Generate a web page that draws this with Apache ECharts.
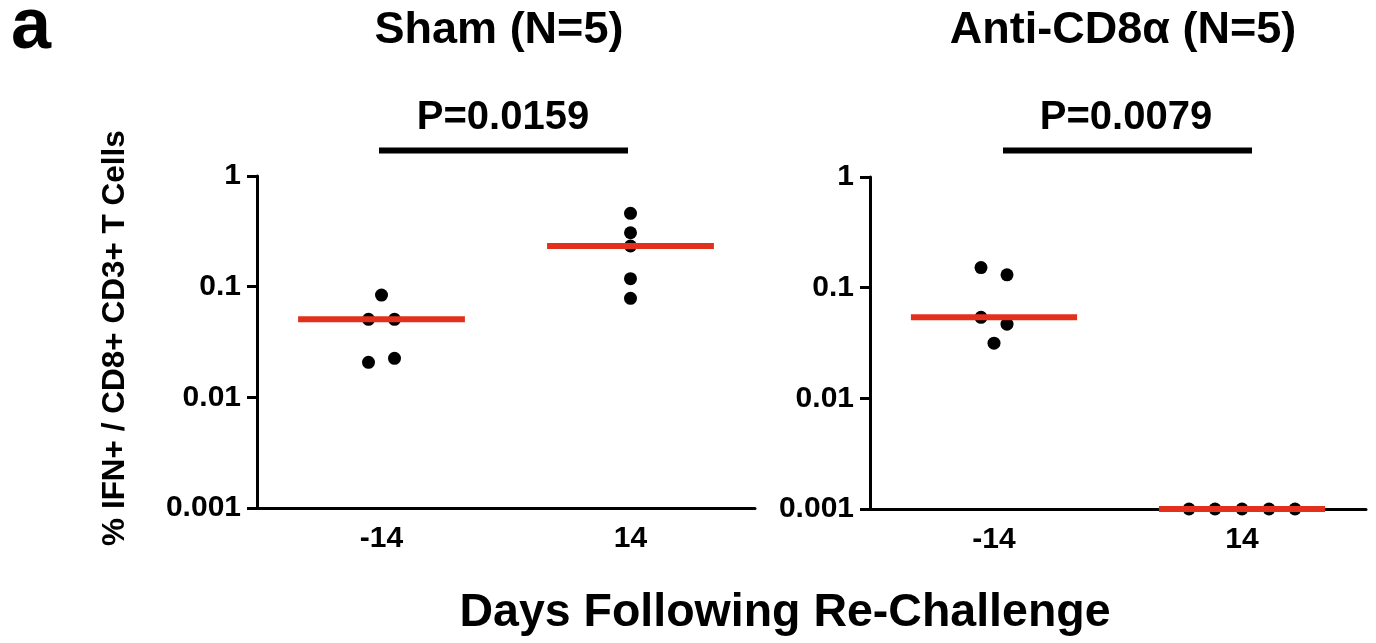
<!DOCTYPE html>
<html>
<head>
<meta charset="utf-8">
<script src="https://cdn.jsdelivr.net/npm/echarts@6/dist/echarts.min.js"></script>
<style>
  html, body { margin: 0; background: #fff; }
  #chart { width: 1376px; height: 643px; }
</style>
</head>
<body>
<div id="chart"></div>
<script>
// categories (days relative to re-challenge)
const days = ['-14', '14']
// % IFN+ of CD8+ CD3+ T cells, one value per animal
const shamBefore = [0.084, 0.0507, 0.0507, 0.0225, 0.0207]
const shamAfter = [0.46, 0.307, 0.233, 0.118, 0.0785]
const cd8Before = [0.152, 0.1305, 0.054, 0.0468, 0.0315]
const cd8After = [0.001, 0.001, 0.001, 0.001, 0.001]
const panelTitles = ['Sham (N=5)', 'Anti-CD8\u03b1 (N=5)']
const pValues = ['P=0.0159', 'P=0.0079']
const yName = '% IFN+ / CD8+ CD3+ T Cells'
const xName = 'Days Following Re-Challenge'

// horizontal spread of the dots inside a column (px)
const spread = {
  shamBefore: [0, -13, 13, 13, -13],
  shamAfter: [0, 0, 0, 0, 0],
  cd8Before: [-13, 13, -13, 13, 0],
  cd8After: [-53, -27, 0, 27, 53]
}

const RED = '#e2301c'
const FONT = '"Liberation Sans", Arial, sans-serif'

function median(arr) {
  const s = arr.slice().sort((a, b) => a - b)
  const m = Math.floor(s.length / 2)
  return s.length % 2 ? s[m] : (s[m - 1] + s[m]) / 2
}

function dots(day, values, offs, idx) {
  return {
    type: 'scatter',
    xAxisIndex: idx,
    yAxisIndex: idx,
    symbol: 'circle',
    symbolSize: 13,
    clip: false,
    itemStyle: { color: '#000', opacity: 1 },
    z: 2,
    data: values.map((v, i) => ({ value: [day, v], symbolOffset: [offs[i], 0] }))
  }
}

function medians(groups, idx) {
  return {
    type: 'custom',
    xAxisIndex: idx,
    yAxisIndex: idx,
    z: 5,
    data: groups.map((g, i) => [i, median(g)]),
    renderItem(params, api) {
      const p = api.coord([api.value(0), api.value(1)])
      const w = api.size([1, 1])[0] * 0.67
      return {
        type: 'rect',
        shape: { x: p[0] - w / 2, y: p[1] - 3, width: w, height: 6 },
        style: { fill: RED }
      }
    }
  }
}

function xAx(idx) {
  return {
    type: 'category',
    gridIndex: idx,
    data: days,
    boundaryGap: true,
    axisLine: { lineStyle: { color: '#000', width: 3 } },
    axisTick: { alignWithLabel: true, length: 10, lineStyle: { color: '#000', width: 3 } },
    axisLabel: { color: '#000', fontFamily: FONT, fontWeight: 'bold', fontSize: 30, margin: 16 }
  }
}

function yAx(idx) {
  return {
    type: 'log',
    logBase: 10,
    gridIndex: idx,
    min: 0.001,
    max: 1,
    splitNumber: 3,
    splitLine: { show: false },
    axisLine: { show: true, lineStyle: { color: '#000', width: 3 } },
    axisTick: { show: true, length: 10, lineStyle: { color: '#000', width: 3 } },
    axisLabel: {
      color: '#000', fontFamily: FONT, fontWeight: 'bold', fontSize: 30, margin: 16,
      formatter: v => String(+Number(v).toPrecision(2))
    }
  }
}

function txt(text, x, y, size, extra) {
  return Object.assign({
    type: 'text',
    x: x,
    y: y,
    style: {
      x: 0, y: 0,
      text: text,
      font: 'bold ' + size + 'px ' + FONT,
      fill: '#000',
      align: 'center', verticalAlign: 'middle',
      textAlign: 'center', textVerticalAlign: 'middle'
    }
  }, extra || {})
}

const chart = echarts.init(document.getElementById('chart'))
chart.setOption({
  animation: false,
  backgroundColor: '#fff',
  grid: [
    { left: 257, top: 176, width: 498, height: 332 },
    { left: 870, top: 177, width: 496, height: 332 }
  ],
  xAxis: [xAx(0), xAx(1)],
  yAxis: [yAx(0), yAx(1)],
  series: [
    dots(days[0], shamBefore, spread.shamBefore, 0),
    dots(days[1], shamAfter, spread.shamAfter, 0),
    medians([shamBefore, shamAfter], 0),
    dots(days[0], cd8Before, spread.cd8Before, 1),
    dots(days[1], cd8After, spread.cd8After, 1),
    medians([cd8Before, cd8After], 1)
  ],
  graphic: [
    txt('a', 31, 28, 72),
    txt(panelTitles[0], 499, 31, 45),
    txt(panelTitles[1], 1123, 31, 45),
    txt(pValues[0], 503, 118, 40),
    txt(pValues[1], 1126, 118, 40),
    { type: 'rect', shape: { x: 379, y: 147.5, width: 249, height: 6 }, style: { fill: '#000' } },
    { type: 'rect', shape: { x: 1003, y: 147.5, width: 249, height: 6 }, style: { fill: '#000' } },
    txt(yName, 115, 338, 31.5, { rotation: Math.PI / 2 }),
    txt(xName, 785, 613, 46.5)
  ]
})
</script>
</body>
</html>
